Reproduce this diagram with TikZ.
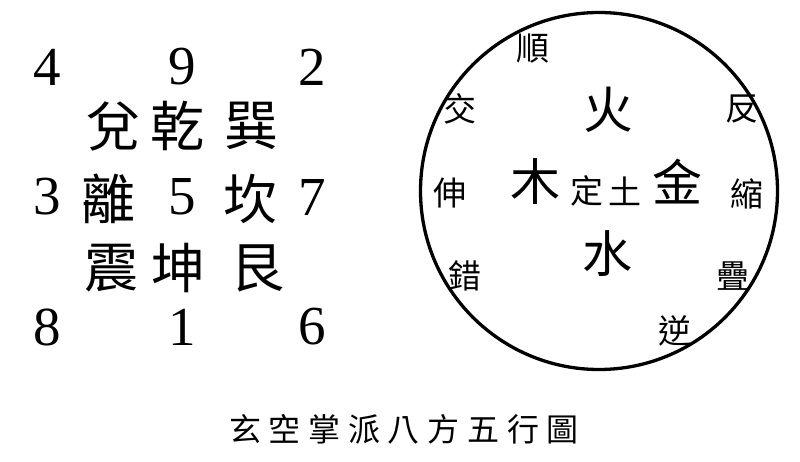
\documentclass[tikz,border=0pt]{standalone}
\usepackage{fontspec}
\setmainfont{Liberation Serif}
\newfontfamily\cjk{Noto Sans CJK TC}
\newfontfamily\cjkT[LetterSpace=24]{Noto Sans CJK TC}
\begin{document}
\begin{tikzpicture}[x=1pt,y=-1pt,
  num/.style={inner sep=0pt, font=\fontsize{55}{55}\selectfont},
  gua/.style={inner sep=0pt, font=\cjk\fontsize{54}{54}\selectfont},
  elem/.style={inner sep=0pt, font=\cjk\fontsize{50}{50}\selectfont},
  word/.style={inner sep=0pt, font=\cjk\fontsize{33}{33}\selectfont},
  ring/.style={circle, draw, line width=3.3pt, minimum size=357pt, inner sep=0pt}]
\useasboundingbox (0,0) rectangle (800,462);
% Lo Shu numbers
\node[num] (n4) at (47,67) {4};
\node[num] (n9) at (182,67) {9};
\node[num] (n2) at (312,67) {2};
\node[num] (n3) at (47,197) {3};
\node[num] (n5) at (182,197) {5};
\node[num] (n7) at (312,197) {7};
\node[num] (n8) at (47,327) {8};
\node[num] (n1) at (182,327) {1};
\node[num] (n6) at (312,327) {6};
% trigrams
\node[gua] (dui) at (113,126) {兌};
\node[gua] (qian) at (177,126) {乾};
\node[gua] (xun) at (251,126) {巽};
\node[gua] (li) at (108,199) {離};
\node[gua] (kan) at (250,199) {坎};
\node[gua] (zhen) at (111,268) {震};
\node[gua] (kun) at (178,268) {坤};
\node[gua] (gen) at (257,268) {艮};
% circle
\node[ring] (c) at (599,191) {};
\node[elem] (huo) at (608,110) {火};
\node[elem] (mu) at (535,182) {木};
\node[elem] (jin) at (677,182) {金};
\node[elem] (shui) at (607,254) {水};
\node[word] (ding) at (587,191) {定};
\node[word] (tu) at (625,191) {土};
\node[word] (shun) at (533,49) {順};
\node[word] (jiao) at (460,109) {交};
\node[word] (fan) at (742,109) {反};
\node[word] (shen) at (450,193) {伸};
\node[word] (suo) at (747,194) {縮};
\node[word] (cuo) at (465,276) {錯};
\node[word] (die) at (733,276) {疊};
\node[word] (ni) at (675,331) {逆};
% title
\node[inner sep=0pt, font=\cjkT\fontsize{32}{32}\selectfont] (title) at (404,429) {玄空掌派八方五行圖};
\end{tikzpicture}
\end{document}
